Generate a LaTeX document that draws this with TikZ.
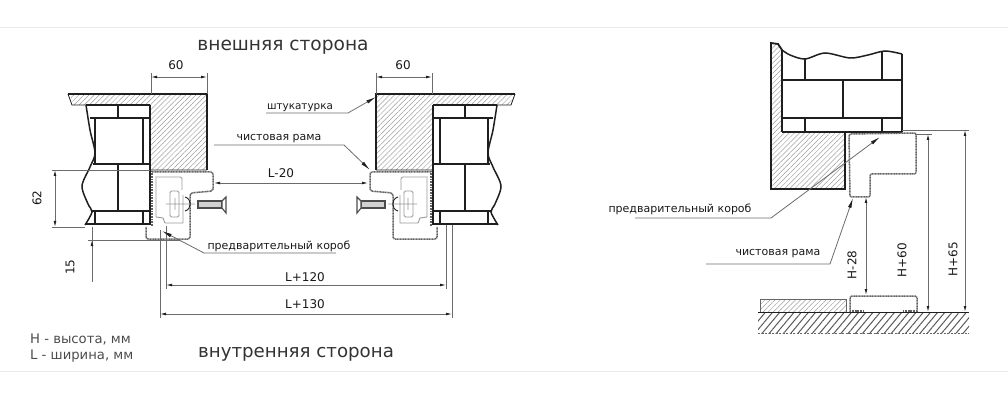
\documentclass[tikz,border=0pt]{standalone}
\usepackage{fontspec}
\setmainfont{DejaVu Sans}
\usetikzlibrary{arrows.meta,patterns.meta}
\definecolor{ink}{gray}{0.12}
\definecolor{thin}{gray}{0.42}
\tikzset{
  wall/.style={draw=ink,line width=1.8pt},
  brick/.style={draw=ink,line width=1.5pt},
  thinline/.style={draw=thin,line width=.8pt},
  hatch/.style={pattern={Lines[angle=45,distance=3.6pt,line width=.5pt]},pattern color=black!38},
  floorhatch/.style={pattern={Lines[angle=50,distance=5.5pt,line width=1pt]},pattern color=black!65},
  frame/.style={draw=black!62,line width=1.5pt,dash pattern=on 1.1pt off .5pt},
  inner/.style={draw=black!40,line width=.9pt},
  dim/.style={thinline,{Latex[length=6pt,width=2.8pt,color=ink]}-{Latex[length=6pt,width=2.8pt,color=ink]}},
  lead/.style={thinline,-{Latex[length=10pt,width=3.6pt,color=ink]}},
  title/.style={font=\fontsize{18.6}{22}\selectfont,text=black!80,inner sep=0pt},
  lab/.style={font=\fontsize{11}{13}\selectfont,text=black!90,inner sep=0pt},
  num/.style={font=\fontsize{12}{14}\selectfont,text=black!90,inner sep=0pt},
}
\begin{document}
\begin{tikzpicture}[x=1pt,y=-1pt]
\useasboundingbox (0,0) rectangle (1008,403);
\path [draw=black!8,line width=.8pt] (0,27) -- (1008,27) (0,371) -- (1008,371);

% left and right jamb
\foreach \sx/\ox in {1/0,-1/583} {
\begin{scope}[shift={(\ox,0)},xscale=\sx]
  \path [hatch] (70,95) -- (151,95) -- (151,105) -- (73,105) -- cycle;
  \path [hatch] (151,95) rectangle (207,170);
  \path [wall] (68,94) -- (207,94) -- (207,170);
  \path [draw=ink,line width=.8pt] (68,94) -- (72,105) -- (86,105) (151,170) -- (207,170);
  % bricks
  \path [brick]
    (150,105) -- (150,225)
    (86,105) -- (150,105)
    (90,118) -- (150,118)
    (93,164) -- (150,164)
    (92,211) -- (150,211)
    (85,224) -- (150,224)
    (118,105) -- (118,118)
    (118,164) -- (118,211)
    (95,118) -- (95,164)
    (95,211) -- (95,224)
    (143,118) -- (143,164)
    (143,211) -- (143,224)
  ;
  \draw [brick] plot [smooth] coordinates {(86,105) (90,130) (95,153) (90,167) (82,186) (88,204) (92,212) (85,225)};
  % frame
  \path [frame] (152,171) -- (152,226);
  \path [frame,rounded corners=2pt]
    (152,172) -- (213,172) -- (213,191) -- (190,193) -- (190,239) -- (146,239) -- (146,227);
  \path [inner,rounded corners=1.5pt]
    (155,177) -- (182,177) -- (182,190)
    (170,191) -- (179,191) -- (179,217) -- (170,217) -- cycle
  ;
  \path [inner]
    (156,178) -- (156,217) -- (163,218) -- (165,223) -- (183,223) -- (183,195)
    (166,204) -- (195,204)
    (175,198) -- (175,210)
  ;
  \draw [ink,line width=.9pt] (185,197) .. controls (192,199) and (192,209) .. (185,211);
  % screw
  \path [draw=black!70,fill=black!18,line width=1.1pt] (198,201) rectangle (222,208);
  \path [draw=black!70,fill=white,line width=1.1pt] (222,201) -- (226,197) -- (226,213) -- (222,208) -- cycle;
\end{scope}
}

% dimensions of the jambs
\coordinate (a1) at (151,73);
\coordinate (a2) at (151,94);
\coordinate (a3) at (207,73);
\coordinate (a4) at (207,94);
\coordinate (b1) at (376,73);
\coordinate (b2) at (376,94);
\coordinate (b3) at (432,73);
\coordinate (b4) at (432,94);
\path [thinline]
    (a1) -- (a2)
    (a3) -- (a4)
    (b1) -- (b2)
    (b3) -- (b4)
    (52,170) -- (150,170)
    (52,227) -- (85,227)
    (88,240) -- (180,240)
    (92,227) -- (92,282)
    (166,226) -- (166,289)
    (160,230) -- (160,318)
    (446,225) -- (446,289)
    (452,225) -- (452,318)
;
\draw [dim] (151,77) -- (207,77);
\draw [dim] (376,77) -- (432,77);
\draw [dim] (55,170) -- (55,227);
\draw [thinline,-{Latex[length=6pt,width=2.8pt,color=ink]}] (92,262) -- (92,240);
\draw [dim] (166,285) -- (446,285);
\draw [dim] (160,314) -- (452,314);
\draw [dim] (214,183) -- (368,183);

\node [num] (w1) at (176,65) {60};
\node [num] (w2) at (403,65) {60};
\node [num,rotate=90] (h1) at (37,198) {62};
\node [num,rotate=90] (h2) at (70,267) {15};
\node [num] (l1) at (281,173) {L-20};
\node [num] (l2) at (305,277) {L+120};
\node [num] (l3) at (305,304) {L+130};

% leaders
\node [lab,font=\fontsize{10.4}{13}\selectfont] (plaster) at (300,108) {штукатурка};
\node [lab] (fin1) at (279,139) {чистовая рама};
\node [lab] (pre1) at (279,246) {предварительный короб};
\coordinate (p1) at (266,113);
\coordinate (p2) at (348,113);
\coordinate (p3) at (376,97);
\coordinate (f1) at (214,145);
\coordinate (f2) at (344,145);
\coordinate (f3) at (370,170);
\coordinate (q1) at (336,253);
\coordinate (q2) at (204,253);
\coordinate (q3) at (162,231);
\draw [lead] (p1) -- (p2) -- (p3);
\draw [lead] (f1) -- (f2) -- (f3);
\draw [lead] (q1) -- (q2) -- (q3);

\node [title] (out) at (283,47) {внешняя сторона};
\node [title,font=\fontsize{18.2}{22}\selectfont] (ins) at (296,354) {внутренняя сторона};
\node [lab,anchor=west,text=black!70,font=\fontsize{13.2}{15}\selectfont] (key1) at (30,339) {H - высота, мм};
\node [lab,anchor=west,text=black!70,font=\fontsize{13.2}{15}\selectfont] (key2) at (30,356) {L - ширина, мм};

% section
\path [hatch] (771,43) -- (778,44) -- (782,50) -- (782,133) -- (845,133) -- (845,189) -- (771,189) -- cycle;
\path [wall] (782,50) -- (778,44) -- (771,43) -- (771,189) -- (845,189) -- (845,133);
\path [brick]
    (782,50) -- (782,132)
    (782,132) -- (902,132)
    (902,54) -- (902,132)
    (782,80) -- (902,80)
    (782,118) -- (902,118)
    (805,58) -- (805,80)
    (805,118) -- (805,132)
    (882,52) -- (882,80)
    (882,118) -- (882,132)
    (843,80) -- (843,118)
;
\draw [brick] plot [smooth] coordinates {(782,50) (790,55) (805,59) (825,53) (850,58) (868,55) (885,51) (902,54)};
\path [frame,rounded corners=2pt] (849,134) -- (916,133) -- (916,174) -- (870,174) -- (870,197) -- (850,197) -- cycle;

% floor
\path [floorhatch] (758,312) rectangle (969,333);
\path [hatch] (760,299) rectangle (846,312);
\path [draw=ink,line width=.9pt] (758,312) -- (969,312);
\path [draw=black!60,line width=.9pt,dash pattern=on 2pt off 1.5pt] (758,333) -- (969,333);
\path [draw=black!60,line width=.8pt] (760,312) -- (760,299) -- (846,299) -- (846,312);
\path [frame,rounded corners=2pt] (850,312) -- (850,296) -- (917,296) -- (917,312);
\path [frame] (850,311) -- (863,311) (903,311) -- (917,311);

\coordinate (c1) at (902,130);
\coordinate (c2) at (969,130);
\coordinate (c3) at (915,134);
\coordinate (c4) at (932,134);
\path [thinline]
    (c1) -- (c2)
    (c3) -- (c4)
;
\draw [dim] (928,134) -- (928,312);
\draw [dim] (965,130) -- (965,312);
\draw [dim] (866,197) -- (866,295);

\node [num,rotate=90] (s1) at (852,265) {H-28};
\node [num,rotate=90] (s2) at (902,260) {H+60};
\node [num,rotate=90] (s3) at (953,259) {H+65};

\node [lab] (pre2) at (680,209) {предварительный короб};
\node [lab] (fin2) at (778,254) {чистовая рама};
\coordinate (r1) at (635,218);
\coordinate (r2) at (771,218);
\coordinate (r3) at (880,137);
\coordinate (t1) at (706,264);
\coordinate (t2) at (830,264);
\coordinate (t3) at (853,198);
\draw [lead] (r1) -- (r2) -- (r3);
\draw [lead] (t1) -- (t2) -- (t3);

\end{tikzpicture}
\end{document}
